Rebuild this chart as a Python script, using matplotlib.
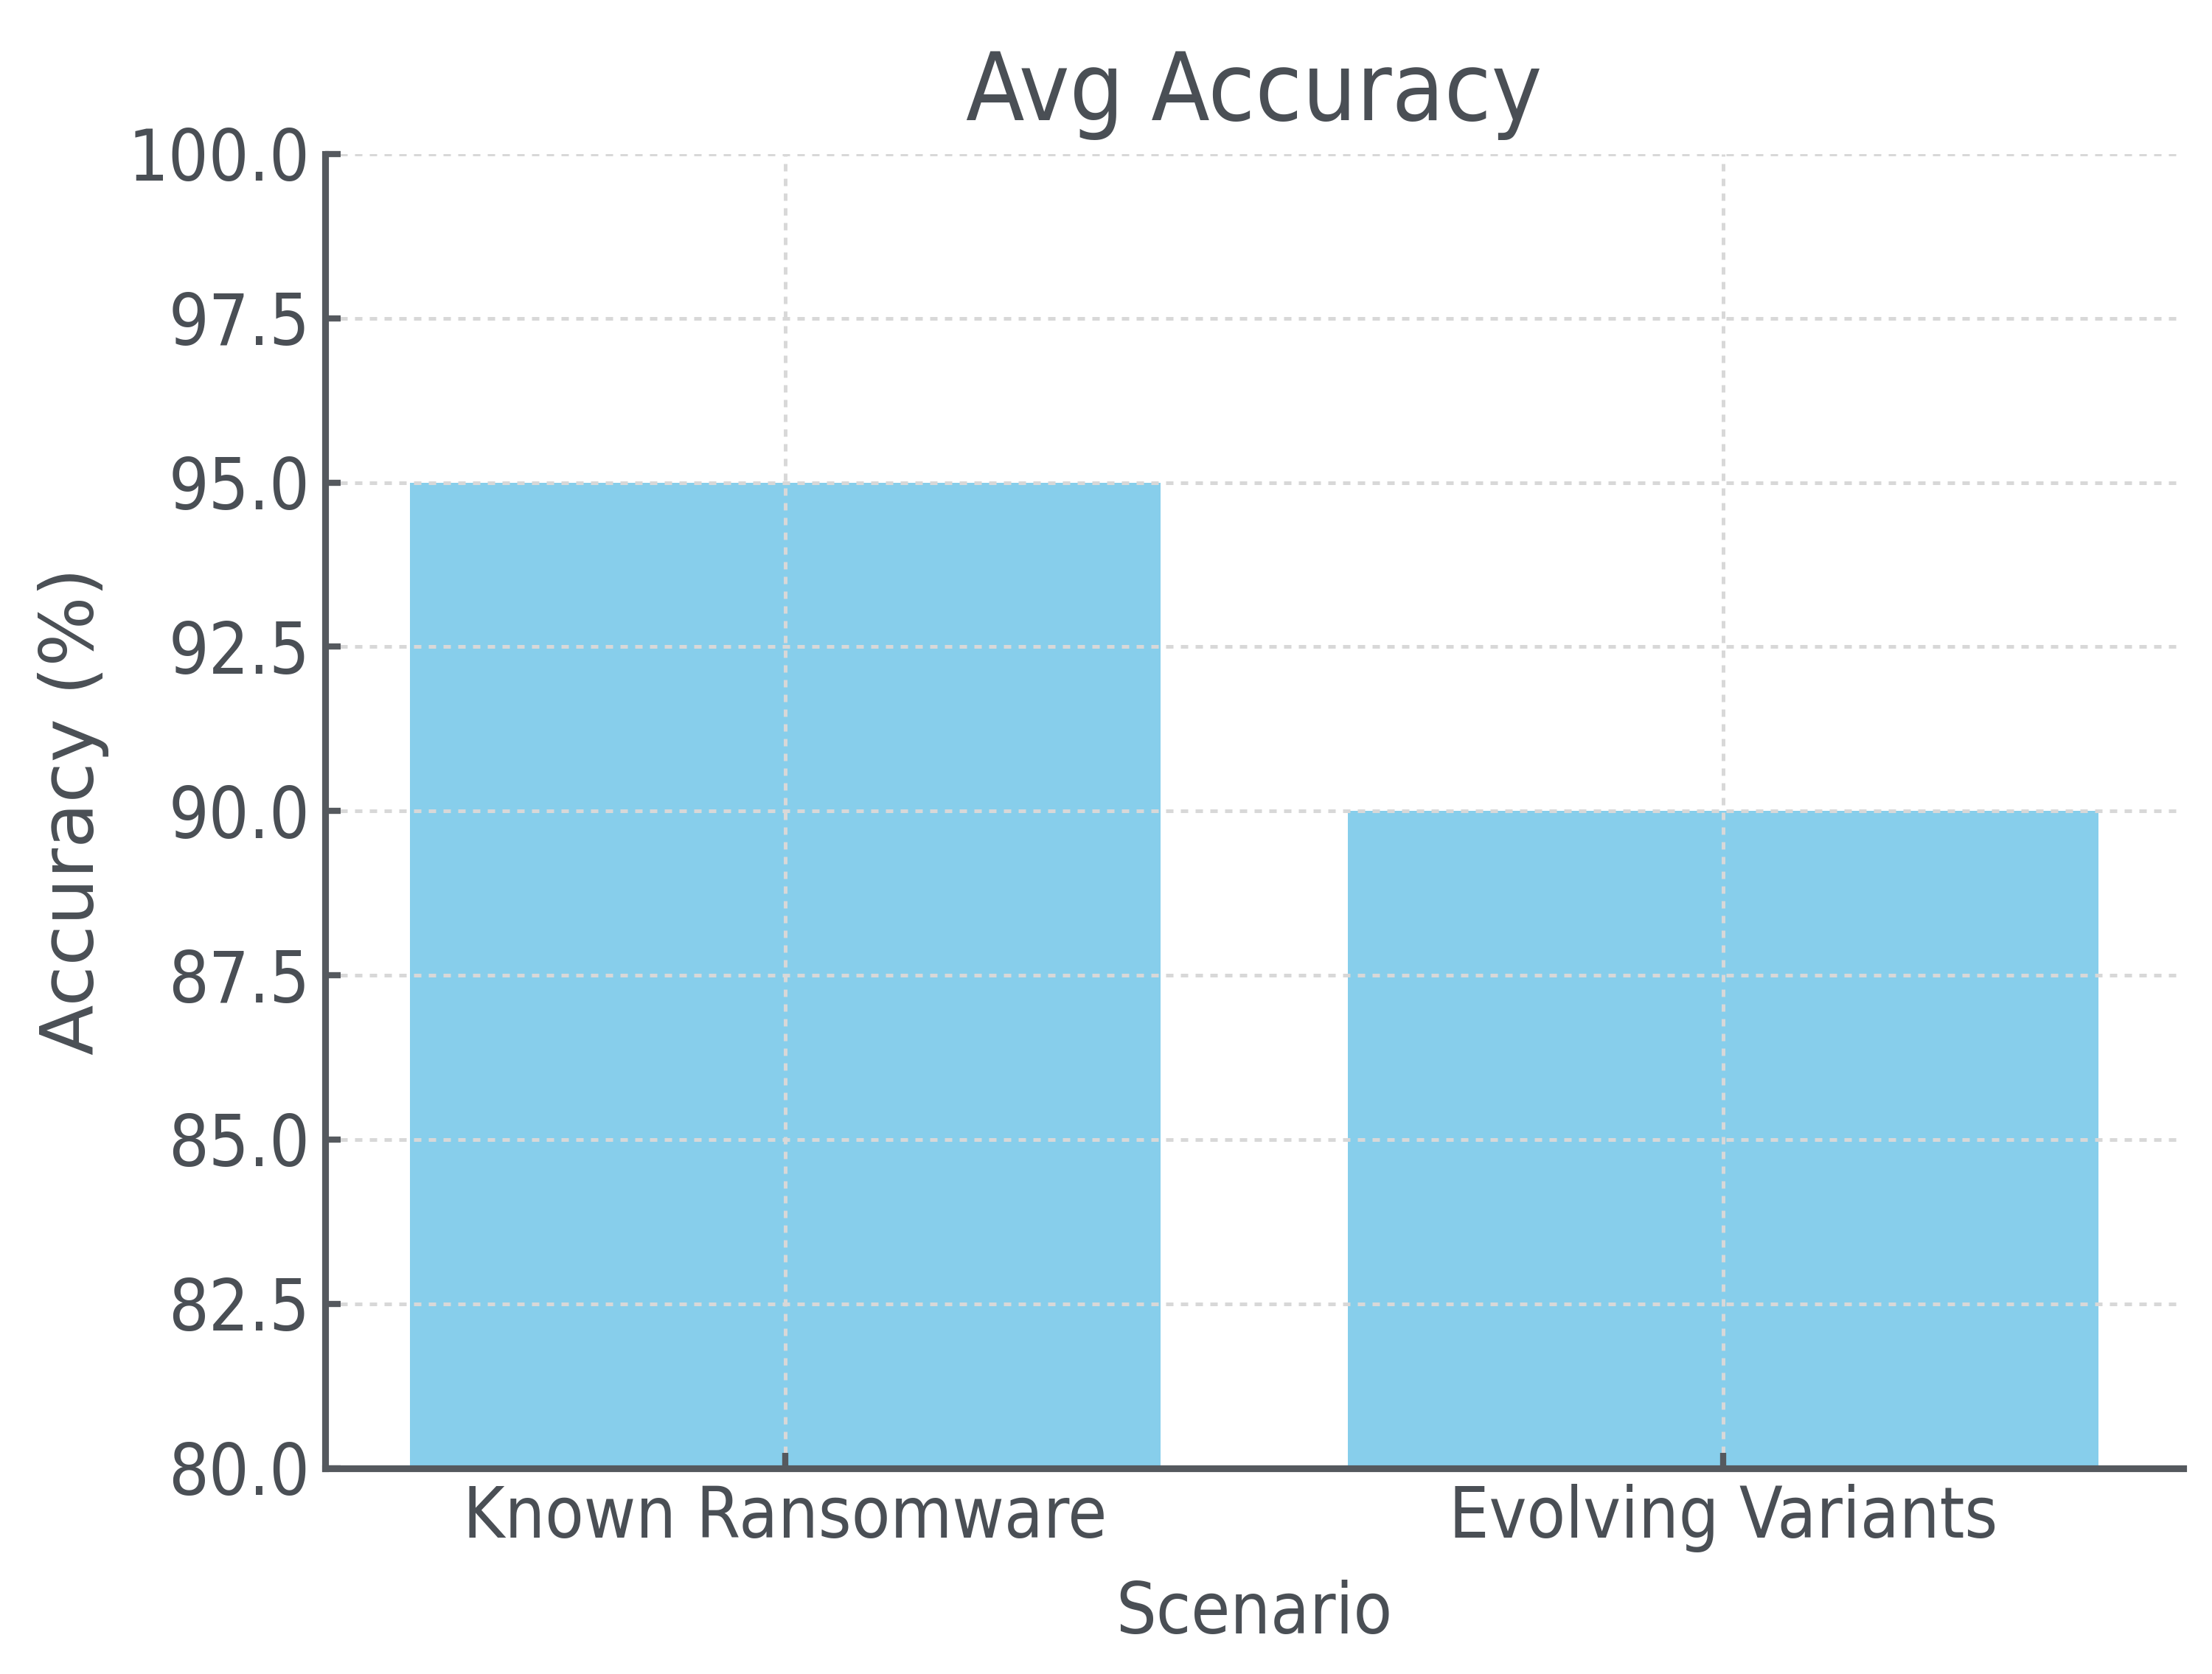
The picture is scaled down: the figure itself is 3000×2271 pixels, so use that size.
import matplotlib
matplotlib.use('Agg')
import matplotlib.pyplot as plt

# data
scenarios = ['Known Ransomware', 'Evolving Variants']
accuracy = [95.0, 90.0]
y_ticks = [80.0, 82.5, 85.0, 87.5, 90.0, 92.5, 95.0, 97.5, 100.0]

text_col = '#4a4f55'
axis_col = '#55595e'

plt.rcParams['font.family'] = 'DejaVu Sans'
plt.rcParams['font.stretch'] = 'condensed'

fig = plt.figure(figsize=(10, 2271 / 300), dpi=300)
ax = fig.add_axes([0.147, 0.123, 0.840, 0.785])

ax.bar(range(len(scenarios)), accuracy, width=0.8, color='#87CEEB', zorder=1)

ax.set_xlim(-0.49, 1.49)
ax.set_ylim(80, 100)
ax.set_yticks(y_ticks)
ax.set_yticklabels(['%.1f' % v for v in y_ticks])
ax.set_xticks(range(len(scenarios)))
ax.set_xticklabels(scenarios)

ax.grid(True, linestyle=(0, (2, 2)), color='#d8d8d8', linewidth=1.2, zorder=2)
ax.set_axisbelow(False)

for s in ['top', 'right']:
    ax.spines[s].set_visible(False)
for s in ['left', 'bottom']:
    ax.spines[s].set_color(axis_col)
    ax.spines[s].set_linewidth(2.2)
    ax.spines[s].set_zorder(3)

ax.tick_params(axis='both', direction='in', length=5, width=2, color=axis_col,
               labelcolor=text_col, labelsize=23, pad=5)

ax.set_title('Avg Accuracy', fontsize=31, color=text_col, pad=11)
ax.set_xlabel('Scenario', fontsize=23, color=text_col, labelpad=9)
ax.set_ylabel('Accuracy (%)', fontsize=24, color=text_col, labelpad=6,
              fontstretch='normal')

fig.savefig('out.png', dpi=300)
